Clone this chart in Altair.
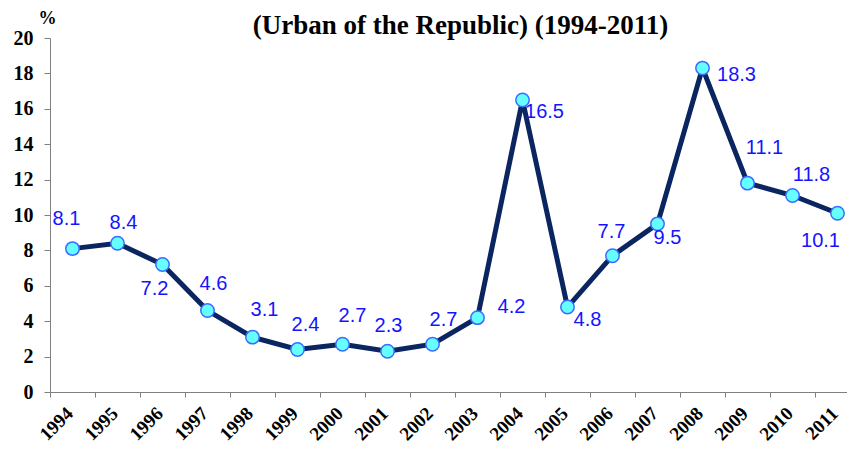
import altair as alt
import pandas as pd

years = [str(y) for y in range(1994, 2012)]
values = [8.1, 8.4, 7.2, 4.6, 3.1, 2.4, 2.7, 2.3, 2.7, 4.2, 16.5, 4.8, 7.7, 9.5, 18.3, 11.8, 11.1, 10.1]
labels = ["8.1", "8.4", "7.2", "4.6", "3.1", "2.4", "2.7", "2.3", "2.7", "4.2", "16.5", "4.8", "7.7", "9.5", "18.3", "11.1", "11.8", "10.1"]

# label placement offsets (dx, dy) in pixels, styling only
label_offsets = [(-6, -30), (6, -20), (-8, 24), (6, -27), (12, -27), (8, -25), (10, -28), (1, -25),
                 (11, -24), (34, -11), (22, 12), (20, 13), (-1, -24), (10, 14), (34, 7), (17, -35),
                 (19, -21), (-17, 28)]

df = pd.DataFrame({"year": years, "value": values, "label": labels})

serif = "Liberation Serif"
sans = "Liberation Sans"

x = alt.X("year:O", scale=alt.Scale(type="band", paddingInner=0, paddingOuter=0, range=[0, 810]),
          axis=alt.Axis(title=None, labelAngle=-45, labelAlign="right", labelBaseline="middle",
                        labelFont=serif, labelFontWeight="bold", labelFontSize=19, labelColor="black",
                        tickBand="extent", tickSize=5, tickColor="#808080", domainColor="#808080",
                        labelPadding=13, labelOffset=-3, grid=False, labelOverlap=False))
y = alt.Y("value:Q", scale=alt.Scale(domain=[0, 20], nice=False),
          axis=alt.Axis(title="%", titleAngle=0, titleX=-3, titleY=-11, titleBaseline="bottom",
                        titleFont=serif, titleFontWeight="bold", titleFontSize=18, titleAlign="center",
                        values=list(range(0, 21, 2)), labelFont=serif, labelFontWeight="bold",
                        labelFontSize=20, labelColor="black", tickSize=6, tickColor="#808080",
                        domainColor="#808080", grid=False, labelPadding=11))

base = alt.Chart(df)
line = base.mark_line(color="#0b2560", strokeWidth=5).encode(x=x, y=y)
pts = base.mark_point(filled=True, fill="#66ffff", stroke="#3a6cff", strokeWidth=1.5,
                      size=180, opacity=1).encode(x=x, y=y)

texts = []
for yr, (dx, dy) in zip(years, label_offsets):
    texts.append(
        base.transform_filter(alt.datum.year == yr).mark_text(
            dx=dx, dy=dy, font=sans, fontSize=20, color="#1414ff", align="center",
            baseline="middle").encode(x=x, y=y, text="label:N")
    )

chart = alt.layer(line, pts, *texts).properties(
    width=797, height=354,
    title=alt.TitleParams("(Urban of the Republic) (1994-2011)", font=serif, fontSize=27,
                          fontWeight="bold", color="black", anchor="middle", frame="group",
                          dx=12, offset=-31),
    autosize=alt.AutoSizeParams(type="none"),
    padding={"left": 42, "top": 30, "right": 0, "bottom": 54},
).configure_view(stroke=None)

chart.save("out.html", embed_options={"renderer": "svg", "actions": False})
